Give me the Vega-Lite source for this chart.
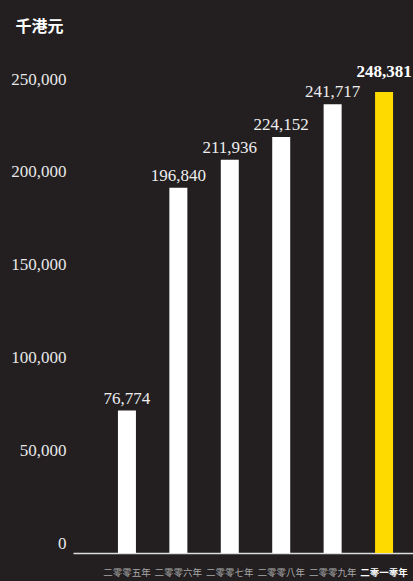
{
  "$schema": "https://vega.github.io/schema/vega-lite/v6.json",
  "width": 340,
  "height": 464,
  "autosize": {"type": "none"},
  "padding": {"left": 73, "top": 89, "right": 0, "bottom": 28},
  "background": "#231f20",
  "config": {"view": {"stroke": null}},
  "data": {
    "values": [
      {"year": "二零零五年", "value": 76774},
      {"year": "二零零六年", "value": 196840},
      {"year": "二零零七年", "value": 211936},
      {"year": "二零零八年", "value": 224152},
      {"year": "二零零九年", "value": 241717},
      {"year": "二零一零年", "value": 248381}
    ]
  },
  "encoding": {
    "x": {
      "field": "year",
      "type": "nominal",
      "sort": null,
      "scale": {"range": [0, 365], "paddingInner": 0.65, "paddingOuter": 0.874},
      "axis": {
        "title": null,
        "labelAngle": 0,
        "ticks": false,
        "domainColor": "#dddddd",
        "domainWidth": 1.3,
        "labelPadding": 14,
        "labelFont": "Noto Sans CJK TC",
        "labelFontSize": 9.5,
        "labelColor": {"condition": {"test": "datum.value === '二零一零年'", "value": "#ffffff"}, "value": "#a8a8a8"},
        "labelFontWeight": {"condition": {"test": "datum.value === '二零一零年'", "value": "bold"}, "value": "normal"}
      }
    },
    "y": {
      "field": "value",
      "type": "quantitative",
      "scale": {"domain": [0, 250000], "nice": false},
      "axis": {
        "title": "千港元",
        "titleAngle": 0,
        "titleX": -58,
        "titleY": -58,
        "titleAlign": "left",
        "titleBaseline": "alphabetic",
        "titleFont": "Noto Sans CJK TC",
        "titleFontSize": 16,
        "titleFontWeight": "bold",
        "titleColor": "#ffffff",
        "values": [0, 50000, 100000, 150000, 200000, 250000],
        "labelExpr": "format(datum.value, ',.0f')",
        "domain": false,
        "ticks": false,
        "grid": false,
        "labelFont": "Liberation Serif",
        "labelFontSize": 17,
        "labelColor": "#e8e8e8",
        "labelPadding": 7,
        "labelBaseline": "alphabetic",
        "labelOffset": -5
      }
    }
  },
  "layer": [
    {
      "mark": {"type": "bar"},
      "encoding": {
        "color": {"condition": {"test": "datum.year === '二零一零年'", "value": "#ffda00"}, "value": "#ffffff"}
      }
    },
    {
      "transform": [{"filter": "datum.year !== '二零一零年'"}],
      "mark": {"type": "text", "dy": -7, "baseline": "alphabetic", "font": "Liberation Serif", "fontSize": 17, "color": "#eeeeee"},
      "encoding": {"text": {"field": "value", "type": "quantitative", "format": ","}}
    },
    {
      "transform": [{"filter": "datum.year === '二零一零年'"}],
      "mark": {"type": "text", "dy": -15, "baseline": "alphabetic", "font": "Liberation Serif", "fontSize": 17, "fontWeight": "bold", "color": "#ffffff"},
      "encoding": {"text": {"field": "value", "type": "quantitative", "format": ","}}
    }
  ]
}
